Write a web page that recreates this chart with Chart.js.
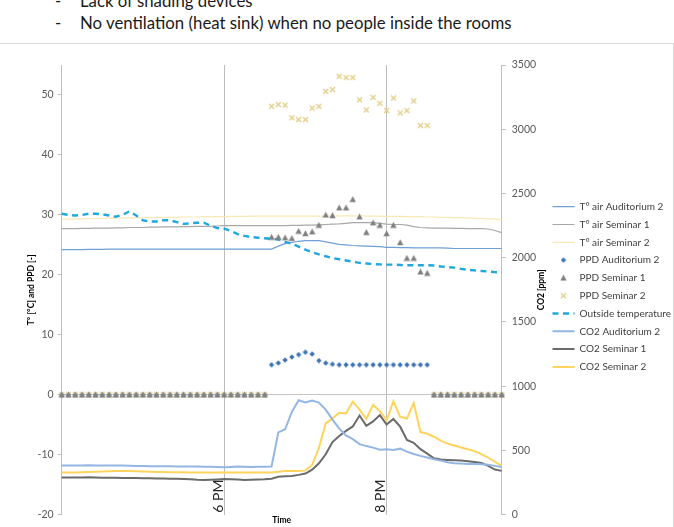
<!DOCTYPE html>
<html>
<head>
<meta charset="utf-8">
<script src="https://cdn.jsdelivr.net/npm/chart.js@4.4.0/dist/chart.umd.min.js"></script>
<style>
  html, body { margin: 0; padding: 0; background: #fff; }
  body { width: 674px; height: 527px; overflow: hidden; position: relative; font-family: Lato, sans-serif; }
  .txt { position: absolute; font-size: 16.8px; line-height: 17px; color: #1a1a1a; white-space: nowrap; }
  .box { position: absolute; left: -1px; top: 43px; width: 675px; height: 500px; border: 1px solid #dadada; box-sizing: border-box; }
  #wrap { position: absolute; left: 0; top: 43px; width: 674px; height: 484px; }
</style>
</head>
<body>
<div class="txt" style="top:-7.6px;left:55px">-</div>
<div class="txt" style="top:-7.6px;left:80px">Lack of shading devices</div>
<div class="txt" style="top:14.4px;left:55px">-</div>
<div class="txt" style="top:14.4px;left:80px">No ventilation (heat sink) when no people inside the rooms</div>
<div class="box"></div>
<div id="wrap"><canvas id="myChart" width="674" height="484" style="width:674px;height:484px"></canvas></div>
<script>
// time axis, one reading every 5 minutes
const times = [
    '16:00','16:05','16:10','16:15','16:20','16:25','16:30','16:35','16:40','16:45','16:50','16:55',
    '17:00','17:05','17:10','17:15','17:20','17:25','17:30','17:35','17:40','17:45','17:50','17:55',
    '18:00','18:05','18:10','18:15','18:20','18:25','18:30','18:35','18:40','18:45','18:50','18:55',
    '19:00','19:05','19:10','19:15','19:20','19:25','19:30','19:35','19:40','19:45','19:50','19:55',
    '20:00','20:05','20:10','20:15','20:20','20:25','20:30','20:35','20:40','20:45','20:50','20:55',
    '21:00','21:05','21:10','21:15','21:20','21:25'
];
const markedTimes = ['18:00', '20:00'];
const markedLabels = ['6 PM', '8 PM'];

// left axis: temperatures [°C] and PPD [-]
const tAirAud = [
    24.2, 24.2, 24.2, 24.2, 24.25, 24.25, 24.25, 24.3, 24.3, 24.3, 24.3, 24.3, 24.3, 24.3, 24.3, 24.3,
    24.3, 24.3, 24.3, 24.3, 24.3, 24.3, 24.3, 24.3, 24.3, 24.3, 24.3, 24.3, 24.3, 24.3, 24.3,
    24.3, 24.8, 25.2, 25.4, 25.6, 25.7, 25.7, 25.7, 25.5, 25.3, 25.1, 25.0, 24.9, 24.85, 24.8, 24.75,
    24.7, 24.6, 24.6, 24.55, 24.55, 24.5, 24.5, 24.5, 24.5, 24.5, 24.45, 24.4, 24.4, 24.4, 24.4, 24.4,
    24.4, 24.4, 24.4
];
const tAirSem1 = [
    27.7, 27.7, 27.7, 27.75, 27.75, 27.8, 27.8, 27.8, 27.85, 27.85, 27.9, 27.9, 27.9, 27.95, 27.95, 28.0,
    28.0, 28.0, 28.05, 28.05, 28.1, 28.1, 28.1, 28.15, 28.2, 28.2, 28.2, 28.2, 28.2, 28.2, 28.2,
    28.2, 28.2, 28.2, 28.25, 28.25, 28.3, 28.3, 28.35, 28.4, 28.45, 28.5, 28.6, 28.7, 28.7, 28.7, 28.7,
    28.6, 28.45, 28.4, 28.4, 28.3, 28.05, 27.9, 27.85, 27.8, 27.8, 27.8, 27.75, 27.75, 27.7, 27.7, 27.7,
    27.65, 27.4, 27.05
];
const tAirSem2 = [
    29.3, 29.3, 29.35, 29.35, 29.4, 29.4, 29.4, 29.45, 29.45, 29.5, 29.5, 29.5, 29.55, 29.55, 29.6, 29.6,
    29.6, 29.6, 29.65, 29.65, 29.65, 29.7, 29.7, 29.7, 29.7, 29.75, 29.75, 29.75, 29.8, 29.8, 29.8,
    29.8, 29.8, 29.8, 29.8, 29.8, 29.8, 29.8, 29.8, 29.8, 29.8, 29.85, 29.85, 29.85, 29.85, 29.8, 29.8,
    29.8, 29.75, 29.75, 29.75, 29.7, 29.7, 29.7, 29.65, 29.65, 29.6, 29.6, 29.55, 29.5, 29.5, 29.45, 29.4,
    29.35, 29.3, 29.2
];
const ppdAud = [
    0, 0, 0, 0, 0, 0, 0, 0, 0, 0, 0, 0, 0, 0, 0, 0, 0, 0, 0, 0, 0, 0, 0, 0, 0, 0, 0, 0, 0, 0, 0,
    5.0, 5.3, 5.8, 6.3, 6.7, 7.1, 6.8, 5.7, 5.3, 5.1, 5.0, 5.0, 5.0, 5.0, 5.0, 5.0, 5.0, 5.0, 5.0, 5.0,
    5.0, 5.0, 5.0, 5.0,
    0, 0, 0, 0, 0, 0, 0, 0, 0, 0, 0
];
const ppdSem1 = [
    0, 0, 0, 0, 0, 0, 0, 0, 0, 0, 0, 0, 0, 0, 0, 0, 0, 0, 0, 0, 0, 0, 0, 0, 0, 0, 0, 0, 0, 0, 0,
    26.3, 26.3, 26.2, 26.1, 27.3, 26.9, 27.2, 28.3, 30.0, 29.9, 31.2, 31.2, 32.6, 29.7, 27.1, 28.7,
    28.3, 26.9, 28.3, 25.4, 22.8, 22.8, 20.5, 20.3,
    0, 0, 0, 0, 0, 0, 0, 0, 0, 0, 0
];
const ppdSem2 = [
    0, 0, 0, 0, 0, 0, 0, 0, 0, 0, 0, 0, 0, 0, 0, 0, 0, 0, 0, 0, 0, 0, 0, 0, 0, 0, 0, 0, 0, 0, 0,
    48.1, 48.4, 48.3, 46.2, 45.9, 45.9, 47.8, 48.1, 50.6, 50.9, 53.1, 52.9, 52.9, 49.2, 47.5, 49.6,
    48.6, 47.4, 49.5, 47.0, 47.4, 49.0, 44.9, 44.9,
    0, 0, 0, 0, 0, 0, 0, 0, 0, 0, 0
];
const outside = [
    30.2, 30.0, 29.9, 30.0, 30.2, 30.2, 30.1, 29.9, 29.7, 30.0,
    30.6, 29.9, 29.1, 28.9, 28.9, 29.1, 29.1, 28.8, 28.5, 28.6,
    28.7, 28.7, 28.2, 27.8, 27.7, 27.3, 26.8, 26.5, 26.3, 26.2,
    26.1, 26.0, 25.9, 25.5, 25.2, 24.7, 24.2, 23.8, 23.4, 23.1,
    22.8, 22.6, 22.4, 22.2, 22.0, 21.9, 21.8, 21.75, 21.7, 21.7,
    21.65, 21.6, 21.6, 21.6, 21.6, 21.55, 21.4, 21.3, 21.2, 21.0,
    20.85, 20.75, 20.65, 20.55, 20.45, 20.4
];

// right axis: CO2 [ppm]
const co2Aud = [
    383, 383, 382, 383, 384, 383, 382, 382, 383, 382, 381, 380, 379, 378, 378, 377,
    377, 376, 376, 375, 375, 374, 373, 372, 370, 372, 375, 374, 372, 373, 374,
    375, 641, 665, 800, 891, 873, 889, 873, 818, 740, 670, 617, 588, 549, 534, 522,
    505, 510, 504, 514, 491, 473, 458, 445, 432, 421, 408, 401, 398, 395, 395, 393,
    388, 380, 372
];
const co2Sem1 = [
    290, 290, 289, 290, 291, 289, 288, 288, 287, 286, 285, 285, 284, 283, 282, 281,
    280, 279, 277, 275, 272, 271, 272, 274, 277, 275, 273, 271, 272, 274, 276,
    280, 295, 300, 302, 310, 320, 350, 400, 470, 565, 613, 652, 687, 772, 692, 726,
    775, 701, 745, 685, 581, 560, 510, 475, 439, 429, 426, 424, 421, 416, 411, 403,
    380, 351, 341
];
const co2Sem2 = [
    328, 328, 329, 331, 333, 335, 337, 339, 340, 341, 340, 338, 336, 334, 333, 332,
    331, 330, 330, 329, 329, 328, 328, 328, 328, 328, 328, 329, 329, 328, 328,
    328, 335, 340, 340, 340, 345, 387, 520, 711, 750, 793, 788, 880, 818, 745, 855,
    805, 735, 883, 762, 749, 868, 643, 630, 607, 576, 553, 538, 523, 509, 495, 472,
    445, 412, 380
];

// small marker pictures, used for the points and the legend
function marker(shape, color, size) {
    const c = document.createElement('canvas');
    c.width = size;
    c.height = size;
    const g = c.getContext('2d');
    const m = size / 2;
    g.fillStyle = color;
    g.strokeStyle = color;
    g.lineWidth = 1.3;
    g.beginPath();
    if (shape === 'diamond') {
        g.moveTo(m, 0.3); g.lineTo(size - 0.3, m); g.lineTo(m, size - 0.3); g.lineTo(0.3, m);
        g.closePath(); g.fill();
    } else if (shape === 'triangle') {
        g.moveTo(m, 0.3); g.lineTo(size - 0.3, size - 0.8); g.lineTo(0.3, size - 0.8);
        g.closePath(); g.fill();
    } else {
        g.moveTo(1, 1); g.lineTo(size - 1, size - 1);
        g.moveTo(size - 1, 1); g.lineTo(1, size - 1);
        g.stroke();
    }
    return c;
}

function lineSet(label, data, color, width, axis, order, dash) {
    return {
        label: label, data: data, yAxisID: axis, order: order,
        borderColor: color, backgroundColor: color, borderWidth: width, borderDash: dash || [],
        pointRadius: 0, pointHoverRadius: 0, pointStyle: 'line', tension: 0, fill: false
    };
}
function pointSet(label, data, color, img, order) {
    return {
        label: label, data: data, yAxisID: 'y', order: order, showLine: false,
        borderColor: color, backgroundColor: color, pointStyle: img, pointRadius: 3, pointHoverRadius: 3
    };
}

const C = {
    left: 61.7, right: 501.7, top: 22, bottom: 473.7
};

const extras = {
    id: 'extras',
    afterLayout(chart) {
        // legend column placed next to the CO2 axis title
        const lg = chart.legend;
        lg.left = 544.7;
        lg.width = chart.width - lg.left;
        lg.right = chart.width;
        lg.top = 150.9;
    },
    afterDraw(chart) {
        const ctx = chart.ctx;
        const xs = chart.scales.x;
        const area = chart.chartArea;
        ctx.save();
        ctx.fillStyle = '#262626';
        ctx.font = '14px Lato';
        ctx.textAlign = 'left';
        ctx.textBaseline = 'alphabetic';
        markedTimes.forEach((t, k) => {
            const px = xs.getPixelForValue(times.indexOf(t));
            ctx.save();
            ctx.translate(px - 1.5, area.bottom - 2);
            ctx.rotate(-Math.PI / 2);
            ctx.fillText(markedLabels[k], 0, 0);
            ctx.restore();
        });
        ctx.fillStyle = '#000';
        ctx.font = 'bold 8.5px Lato';
        ctx.textAlign = 'center';
        ctx.textBaseline = 'middle';
        ctx.translate(area.right + 39.3, (area.top + area.bottom) / 2);
        ctx.rotate(-Math.PI / 2);
        ctx.fillText('CO2 [ppm]', 0, 0);
        ctx.restore();
    }
};

Chart.defaults.font.family = 'Lato';

const ctx = document.getElementById('myChart').getContext('2d');
const myChart = new Chart(ctx, {
    type: 'line',
    data: {
        labels: times,
        datasets: [
            lineSet('T° air Auditorium 2', tAirAud, '#6f9fd6', 1.2, 'y', 3),
            lineSet('T° air Seminar 1', tAirSem1, '#a8a8a8', 1.2, 'y', 3),
            lineSet('T° air Seminar 2', tAirSem2, '#f7e8b6', 1.2, 'y', 3),
            pointSet('PPD Auditorium 2', ppdAud, '#3f74b5', marker('diamond', '#3f74b5', 6), 0.2),
            pointSet('PPD Seminar 1', ppdSem1, '#808080', marker('triangle', '#808080', 7), 0),
            pointSet('PPD Seminar 2', ppdSem2, '#e3cd87', marker('cross', '#e3cd87', 7), 0.1),
            lineSet('Outside temperature', outside, '#1fa8dc', 2.4, 'y', 1, [6, 4.5]),
            lineSet('CO2 Auditorium 2', co2Aud, '#93b6e2', 2, 'y2', 2),
            lineSet('CO2 Seminar 1', co2Sem1, '#6b6b6b', 2, 'y2', 2),
            lineSet('CO2 Seminar 2', co2Sem2, '#ffd45c', 2, 'y2', 2)
        ]
    },
    options: {
        responsive: false,
        animation: false,
        layout: { padding: { top: C.top, left: 0, right: 0, bottom: 0 } },
        plugins: {
            tooltip: { enabled: false },
            legend: {
                position: 'right',
                align: 'start',
                labels: {
                    usePointStyle: true,
                    pointStyleWidth: 22,
                    boxHeight: 10,
                    padding: 7.8,
                    color: '#404040',
                    font: { size: 10 },
                    generateLabels: (chart) => chart.data.datasets.map((ds, i) => ({
                        text: ds.label,
                        fontColor: '#404040',
                        fillStyle: ds.borderColor,
                        strokeStyle: ds.borderColor,
                        lineWidth: ds.showLine === false ? 1 : ds.borderWidth,
                        lineDash: ds.borderDash || [],
                        pointStyle: ds.pointStyle,
                        hidden: false,
                        datasetIndex: i
                    }))
                }
            }
        },
        scales: {
            x: {
                type: 'category',
                offset: false,
                ticks: { display: false },
                border: { display: false },
                grid: {
                    drawTicks: false,
                    lineWidth: 1,
                    color: (c) => markedTimes.includes(times[c.index]) ? '#bdbdbd' : 'rgba(0,0,0,0)'
                },
                title: {
                    display: true, text: 'Time', color: '#000',
                    font: { size: 8.5, weight: 'bold' }, padding: { top: 0, bottom: 0 }
                },
                afterFit: (s) => { s.height = 484 - C.bottom; }
            },
            y: {
                position: 'left',
                min: -20,
                max: 55,
                ticks: { stepSize: 10, color: '#595959', font: { size: 10.5 }, padding: 4 },
                afterBuildTicks: (s) => { s.ticks = s.ticks.filter((t) => t.value <= 50); },
                border: { color: '#bfbfbf' },
                grid: {
                    tickLength: 4,
                    tickColor: '#bfbfbf',
                    color: (c) => (c.tick && c.tick.value === 0) ? '#c4c4c4' : 'rgba(0,0,0,0)'
                },
                title: {
                    display: true, text: 'T° [°C] and PPD [-]', color: '#000',
                    font: { size: 8.5, weight: 'bold' }, padding: { top: 26.6, bottom: 0 }
                },
                afterFit: (s) => { s.width = C.left; }
            },
            y2: {
                position: 'right',
                min: 0,
                max: 3500,
                ticks: { stepSize: 500, color: '#595959', font: { size: 10.5 }, padding: 6, callback: (v) => String(v) },
                border: { color: '#bfbfbf' },
                grid: { drawOnChartArea: false, tickLength: 4, tickColor: '#bfbfbf' },
                afterFit: (s) => { s.width = s.chart.width - C.right - s.chart.legend.width; }
            }
        }
    },
    plugins: [extras]
});
</script>
</body>
</html>
